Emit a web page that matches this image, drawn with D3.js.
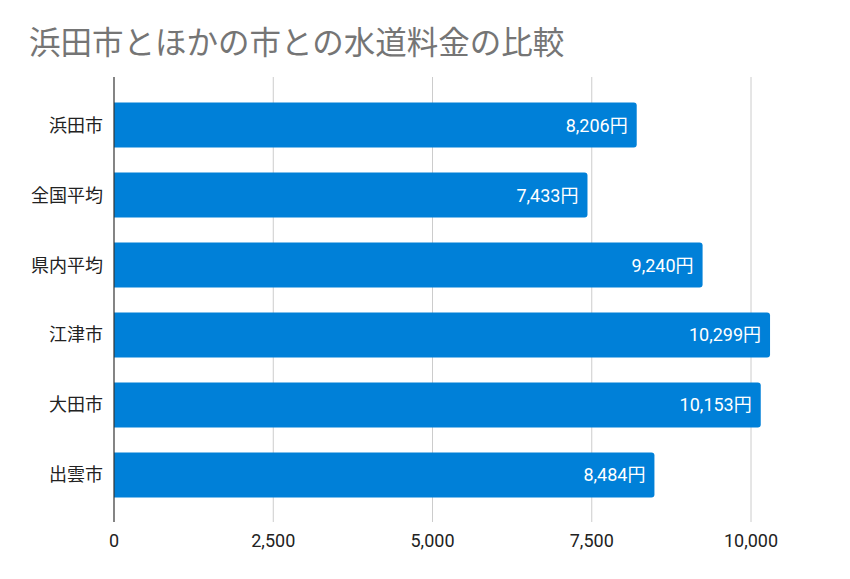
<!DOCTYPE html>
<html>
<head>
<meta charset="utf-8">
<script src="https://cdn.jsdelivr.net/npm/d3@7"></script>
<style>
  body { margin: 0; background: #fff; }
  svg { display: block; }
</style>
</head>
<body>
<div id="viz"></div>
<script>
// water charge comparison, horizontal bars
var title = "浜田市とほかの市との水道料金の比較";
var cities = ["浜田市", "全国平均", "県内平均", "江津市", "大田市", "出雲市"];
var charges = [8206, 7433, 9240, 10299, 10153, 8484];
var xTicks = [0, 2500, 5000, 7500, 10000];

var width = 850, height = 579;
var plotLeft = 114, plotRight = 751;
var plotTop = 77, plotBottom = 522;

var svg = d3.select("#viz").append("svg")
    .attr("width", width)
    .attr("height", height);

svg.append("rect").attr("width", width).attr("height", height).attr("fill", "#fff");

var x = d3.scaleLinear().domain([0, 10000]).range([plotLeft, plotRight]);
var y = d3.scaleBand().domain(cities).range([90, 510])
    .paddingInner(0.357).paddingOuter(0.179);

// title
svg.append("text")
    .attr("x", 29)
    .attr("y", 54)
    .attr("font-family", "'Noto Sans CJK JP', sans-serif")
    .attr("font-size", 31.5)
    .attr("fill", "#757575")
    .text(title);

// gridlines
svg.append("g").selectAll("line")
    .data(xTicks.slice(1))
    .join("line")
    .attr("x1", d => x(d)).attr("x2", d => x(d))
    .attr("y1", plotTop).attr("y2", plotBottom)
    .attr("stroke", "#cccccc")
    .attr("stroke-width", 1);

// bars (rounded on the right end only)
var r = 3;
svg.append("g").selectAll("path")
    .data(cities)
    .join("path")
    .attr("fill", "#0080d8")
    .attr("d", function(d, i) {
        var x0 = x(0), x1 = x(charges[i]), y0 = y(d), h = y.bandwidth();
        return "M" + x0 + "," + y0 +
            "H" + (x1 - r) + "Q" + x1 + "," + y0 + " " + x1 + "," + (y0 + r) +
            "V" + (y0 + h - r) + "Q" + x1 + "," + (y0 + h) + " " + (x1 - r) + "," + (y0 + h) +
            "H" + x0 + "Z";
    });

// value labels
svg.append("g").selectAll("text")
    .data(cities)
    .join("text")
    .attr("x", (d, i) => x(charges[i]) - 9)
    .attr("y", d => y(d) + y.bandwidth() / 2 + 6.5)
    .attr("text-anchor", "end")
    .attr("font-family", "Roboto, 'Noto Sans CJK JP', sans-serif")
    .attr("font-size", 18)
    .attr("fill", "#ffffff")
    .text((d, i) => d3.format(",")(charges[i]) + "円");

// zero axis line
svg.append("line")
    .attr("x1", x(0)).attr("x2", x(0))
    .attr("y1", plotTop).attr("y2", plotBottom)
    .attr("stroke", "#333333")
    .attr("stroke-width", 1.2);

// category labels
svg.append("g").selectAll("text")
    .data(cities)
    .join("text")
    .attr("x", 103)
    .attr("y", d => y(d) + y.bandwidth() / 2 + 6.5)
    .attr("text-anchor", "end")
    .attr("font-family", "'Noto Sans CJK JP', sans-serif")
    .attr("font-size", 18)
    .attr("fill", "#222222")
    .text(d => d);

// x tick labels
svg.append("g").selectAll("text")
    .data(xTicks)
    .join("text")
    .attr("x", d => x(d))
    .attr("y", 547)
    .attr("text-anchor", "middle")
    .attr("font-family", "Roboto, sans-serif")
    .attr("font-size", 18)
    .attr("fill", "#222222")
    .text(d => d3.format(",")(d));
</script>
</body>
</html>
